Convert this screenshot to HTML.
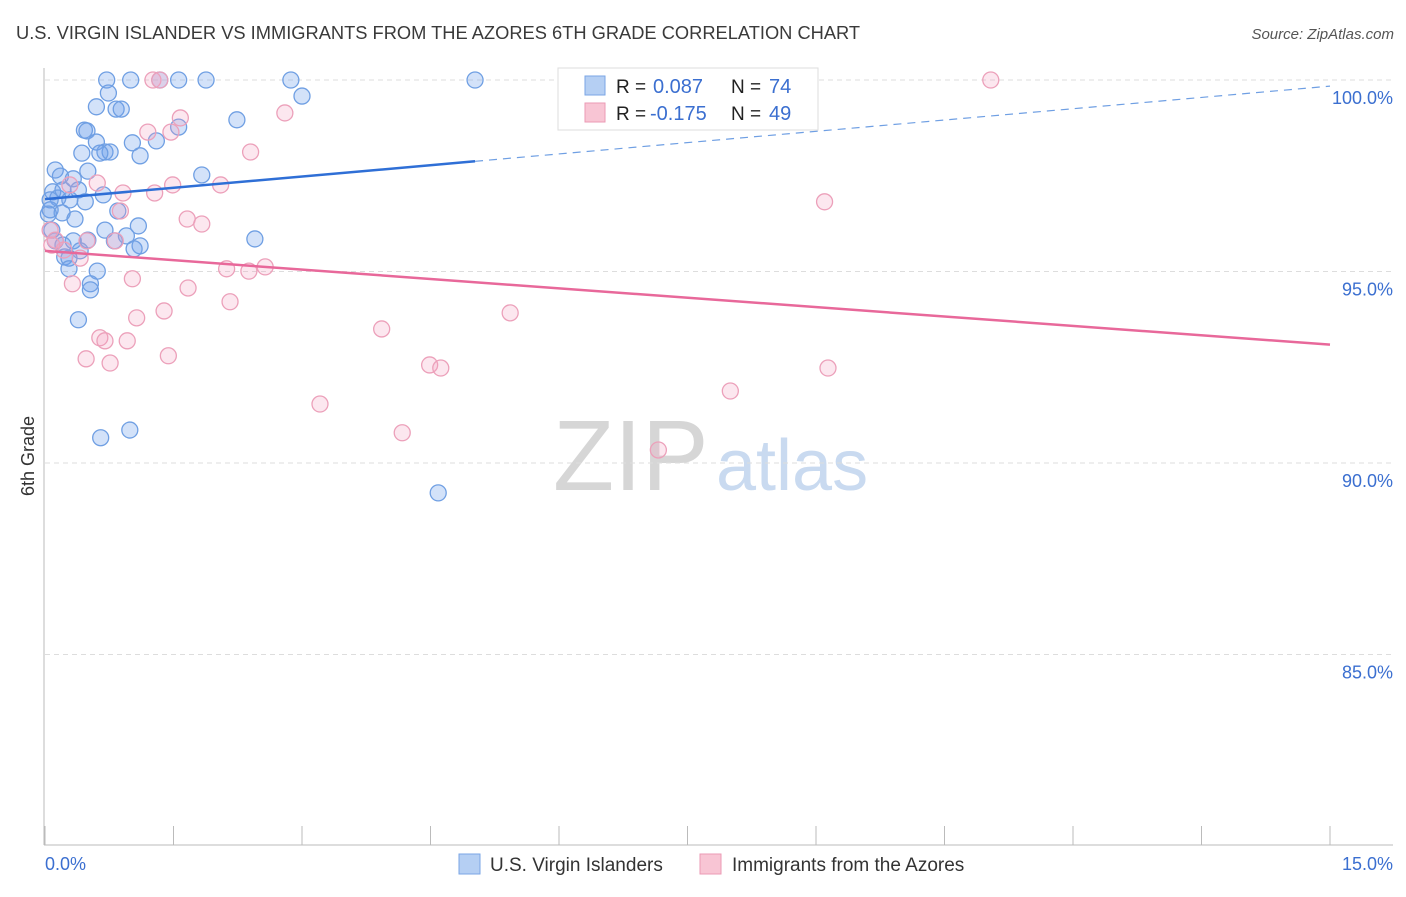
<!DOCTYPE html>
<html><head><meta charset="utf-8">
<style>
body{margin:0;background:#fff;font-family:"Liberation Sans",sans-serif;}
svg text{font-family:"Liberation Sans",sans-serif;}
</style></head>
<body>
<svg id="chart" width="1406" height="892" xmlns="http://www.w3.org/2000/svg">
<text x="16" y="39" font-size="18.3" fill="#3a3a3a">U.S. VIRGIN ISLANDER VS IMMIGRANTS FROM THE AZORES 6TH GRADE CORRELATION CHART</text>
<text x="1394" y="39" font-size="15" fill="#555" font-style="italic" text-anchor="end">Source: ZipAtlas.com</text>
<text transform="translate(34,456) rotate(-90)" font-size="18" fill="#333" text-anchor="middle">6th Grade</text>
<g>
<text x="553" y="490" font-size="100" font-family="Liberation Serif,serif" fill="#d6d6d6">ZIP</text>
<text x="716" y="490" font-size="72" fill="#c9daf0">atlas</text>
</g>
<g id="grid"></g>
<g id="axes"></g>
<g id="pts"></g>
<g id="lines"></g>
<g>
<rect x="558" y="68" width="260" height="62" fill="#fff" stroke="#ddd"/>
<rect x="585" y="76" width="20" height="19" fill="#b5cff3" stroke="#7aa6e6"/>
<rect x="585" y="103" width="20" height="19" fill="#f8c5d4" stroke="#eb9ab4"/>
<text x="616" y="93" font-size="19" fill="#222">R = </text><text x="653" y="93" font-size="20" fill="#3b6fd0">0.087</text>
<text x="731" y="93" font-size="19" fill="#222">N = </text><text x="769" y="93" font-size="20" fill="#3b6fd0">74</text>
<text x="616" y="120" font-size="19" fill="#222">R = </text><text x="650" y="120" font-size="20" fill="#3b6fd0">-0.175</text>
<text x="731" y="120" font-size="19" fill="#222">N = </text><text x="769" y="120" font-size="20" fill="#3b6fd0">49</text>
</g>
<g>
<rect x="459" y="854" width="21" height="20" fill="#b5cff3" stroke="#7aa6e6"/>
<text x="490" y="871" font-size="19" fill="#333">U.S. Virgin Islanders</text>
<rect x="700" y="854" width="21" height="20" fill="#f8c5d4" stroke="#eb9ab4"/>
<text x="732" y="871" font-size="19" fill="#333">Immigrants from the Azores</text>
</g>
</svg>
<script>
const blueX=[0.72,1.00,1.34,1.56,1.88,2.87,5.02,3.00,0.74,0.60,0.83,0.89,2.24,0.46,0.49,1.56,0.60,1.02,1.30,0.70,0.76,0.43,0.64,1.11,1.83,0.12,0.18,0.50,0.33,0.39,0.09,0.21,0.68,0.15,0.29,0.47,0.06,0.20,0.85,0.35,1.09,0.70,0.95,0.12,0.33,0.50,1.11,0.81,1.04,0.41,0.23,0.28,2.45,0.61,0.28,0.53,0.53,0.39,0.99,0.65,4.59,0.06,0.04,0.21,0.08];
const blueY=[100,100,100,100,100,100,100,99.58,99.66,99.30,99.24,99.24,98.96,98.69,98.67,98.77,98.38,98.36,98.41,98.12,98.12,98.09,98.09,98.02,97.52,97.65,97.49,97.62,97.42,97.13,97.08,97.13,97.00,96.92,96.87,96.82,96.61,96.53,96.58,96.37,96.19,96.08,95.93,95.80,95.80,95.82,95.67,95.80,95.59,95.54,95.38,95.35,95.85,95.01,95.07,94.68,94.52,93.74,90.86,90.66,89.22,96.87,96.50,95.69,96.08];
const pinkX=[1.26,1.34,11.04,1.58,1.20,1.47,2.80,2.40,0.29,0.61,0.91,1.28,1.49,2.05,9.10,0.88,1.66,1.83,0.06,0.12,0.49,0.82,0.22,0.41,2.12,2.38,2.57,1.02,0.32,1.67,2.16,1.39,1.07,5.43,3.93,0.64,0.70,0.96,0.48,0.76,1.44,4.49,4.62,9.14,8.00,3.21,4.17,7.16,0.08];
const pinkY=[100,100,100,99.01,98.64,98.64,99.14,98.12,97.26,97.31,97.05,97.05,97.26,97.26,96.82,96.58,96.37,96.24,96.08,95.82,95.80,95.80,95.56,95.35,95.07,95.01,95.12,94.81,94.68,94.57,94.21,93.97,93.79,93.92,93.50,93.27,93.19,93.19,92.72,92.61,92.80,92.56,92.48,92.48,91.88,91.54,90.79,90.34,95.69];
const yTicks=[100,95,90,85];
const yTickLabels=["100.0%","95.0%","90.0%","85.0%"];
const xTicks=[0,1.5,3,4.5,6,7.5,9,10.5,12,13.5,15];
const blueTrend=[96.89,99.84];
const pinkTrend=[95.54,93.09];
const blueSolidEnd=5.02;

const NS="http://www.w3.org/2000/svg";
const X=v=>45+v/15*1285;
const Y=v=>80+(100-v)*38.3;
function mk(tag,attrs,parent){const e=document.createElementNS(NS,tag);for(const k in attrs)e.setAttribute(k,attrs[k]);document.getElementById(parent).appendChild(e);return e;}

yTicks.forEach((t,i)=>{
 const g=mk('line',{x1:45,x2:1393,y1:Y(t),y2:Y(t),stroke:'#ddd','stroke-dasharray':'5,4'},'grid');
 
 
 const l=mk('text',{x:1393,y:Y(t)+24,'font-size':18,fill:'#3b6fd0','text-anchor':'end'},'grid');
 l.textContent=yTickLabels[i];
 
 
});
const ya=mk('line',{x1:44,x2:44,y1:68,y2:845,stroke:'#bbb'},'axes');


const xa=mk('line',{x1:44,x2:1393,y1:845,y2:845,stroke:'#bbb'},'axes');


xTicks.forEach(t=>{
 const tk=mk('line',{x1:X(t),x2:X(t),y1:826,y2:845,stroke:'#bbb'},'axes');
 
 
});
const x0=mk('text',{x:45,y:870,'font-size':18,fill:'#3b6fd0'},'axes');x0.textContent=xTicks[0].toFixed(1)+'%';


const x1=mk('text',{x:1393,y:870,'font-size':18,fill:'#3b6fd0','text-anchor':'end'},'axes');x1.textContent=xTicks[xTicks.length-1].toFixed(1)+'%';



blueX.forEach((v,i)=>{
 const c=mk('circle',{cx:X(v),cy:Y(blueY[i]),r:8,fill:'rgba(110,160,235,0.3)',stroke:'#6f9fe3','stroke-width':1.3},'pts');
 
 
});
pinkX.forEach((v,i)=>{
 const c=mk('circle',{cx:X(v),cy:Y(pinkY[i]),r:8,fill:'rgba(245,160,190,0.25)',stroke:'#eca0ba','stroke-width':1.3},'pts');
 
 
});
const bAt=v=>blueTrend[0]+(blueTrend[1]-blueTrend[0])*v/15;
const b1=mk('line',{x1:X(0),y1:Y(bAt(0)),x2:X(blueSolidEnd),y2:Y(bAt(blueSolidEnd)),stroke:'#2f6fd6','stroke-width':2.5},'lines');


const b2=mk('line',{x1:X(blueSolidEnd),y1:Y(bAt(blueSolidEnd)),x2:X(15),y2:Y(bAt(15)),stroke:'#6f9fe3','stroke-width':1.2,'stroke-dasharray':'8,6'},'lines');


const p1=mk('line',{x1:X(0),y1:Y(pinkTrend[0]),x2:X(15),y2:Y(pinkTrend[1]),stroke:'#e8689a','stroke-width':2.5},'lines');


</script>
</body></html>
